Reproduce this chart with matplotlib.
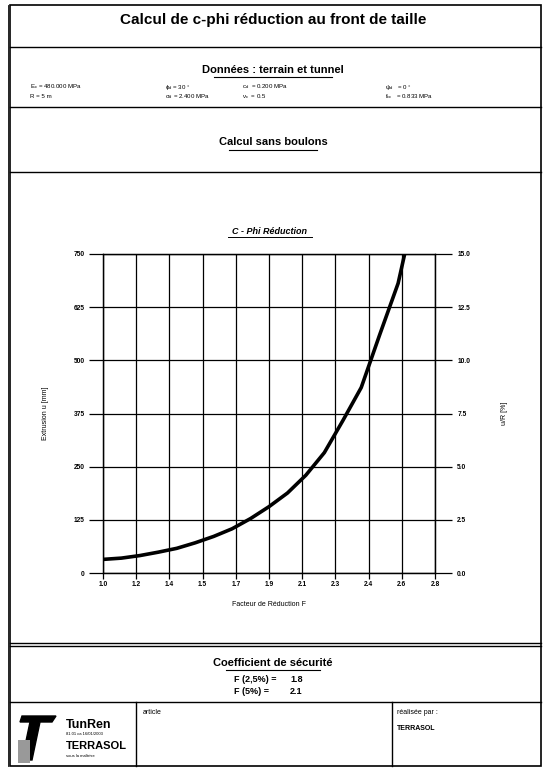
import matplotlib
matplotlib.use("Agg")
import matplotlib.pyplot as plt
from matplotlib.lines import Line2D
from matplotlib.patches import Polygon, Rectangle
import numpy as np

plt.rcParams['font.family'] = ['Liberation Sans', 'DejaVu Sans']
plt.rcParams['mathtext.fontset'] = 'custom'
plt.rcParams['mathtext.rm'] = 'Liberation Sans'
plt.rcParams['mathtext.it'] = 'Liberation Sans'

# ---- data ----
F_values = [1.0, 1.1, 1.2, 1.3, 1.4, 1.5, 1.6, 1.7, 1.8, 1.9, 2.0, 2.1, 2.2, 2.3, 2.4, 2.5, 2.6, 2.65]
u_values = [32, 35, 41, 49, 58, 71, 86, 104, 128, 156, 188, 230, 283, 358, 436, 560, 681, 778]
x_ticks = [1.0, 1.18, 1.36, 1.54, 1.72, 1.90, 2.08, 2.26, 2.44, 2.62, 2.80]
x_ticklabels = ['1.0', '1.2', '1.4', '1.5', '1.7', '1.9', '2.1', '2.3', '2.4', '2.6', '2.8']
y_ticks = [0, 125, 250, 375, 500, 625, 750]
y_ticklabels = ['0', '125', '250', '375', '500', '625', '750']
y2_ticks = [0.0, 2.5, 5.0, 7.5, 10.0, 12.5, 15.0]
y2_ticklabels = ['0.0', '2.5', '5.0', '7.5', '10.0', '12.5', '15.0']

W, H = 547, 770
fig = plt.figure(figsize=(W / 100, H / 100), dpi=100)

def fx(px):
    return px / W

def fy(py):
    return 1 - py / H

def hline(y, x0=10, x1=541, lw=1.0):
    fig.add_artist(Line2D([fx(x0), fx(x1)], [fy(y), fy(y)], color='black', lw=lw))

def vline(x, y0, y1, lw=1.0):
    fig.add_artist(Line2D([fx(x), fx(x)], [fy(y0), fy(y1)], color='black', lw=lw))

def text(x, y, s, **kw):
    fig.text(fx(x), fy(y), s, **kw)

# page frame
fig.add_artist(Rectangle((fx(10), fy(766)), fx(541) - fx(10), fy(5) - fy(766),
                         fill=False, edgecolor='black', lw=1.2))
fig.add_artist(Line2D([fx(8), fx(8)], [fy(5), fy(766)], color='black', lw=0.6))
hline(47)
hline(107)
hline(172)
hline(643)
hline(646)
hline(702)
vline(136, 702, 766)
vline(392, 702, 766)

# titles
text(273, 20, 'Calcul de c-phi réduction au front de taille', ha='center', va='center',
     fontsize=11, fontweight='bold')
text(273, 70, 'Données : terrain et tunnel', ha='center', va='center', fontsize=8,
     fontweight='bold')
fig.add_artist(Line2D([fx(214), fx(332)], [fy(77), fy(77)], color='black', lw=0.8))

ps = 4.4
text(30, 87, r'E$_c$ = 480.000 MPa', fontsize=ps, va='center')
text(30, 97, 'R = 5 m', fontsize=ps, va='center')
text(165, 87, r'$\phi_d$ = 30 °', fontsize=ps, va='center')
text(165, 97, r'$\sigma_d$ = 2.400 MPa', fontsize=ps, va='center')
text(242, 87, r'c$_d$  = 0.200 MPa', fontsize=ps, va='center')
text(242, 97, r'$\nu_c$  = 0.5', fontsize=ps, va='center')
text(385, 87, r'$\psi_d$   = 0 °', fontsize=ps, va='center')
text(385, 97, r'f$_{cc}$   = 0.833 MPa', fontsize=ps, va='center')

text(273, 142, 'Calcul sans boulons', ha='center', va='center', fontsize=8, fontweight='bold')
fig.add_artist(Line2D([fx(229), fx(317)], [fy(150), fy(150)], color='black', lw=0.8))

text(270, 232, 'C - Phi Réduction', ha='center', va='center', fontsize=6.5,
     fontweight='bold', fontstyle='italic')
fig.add_artist(Line2D([fx(228), fx(312)], [fy(237), fy(237)], color='black', lw=0.7))

# chart
ax = fig.add_axes([fx(103), fy(573), fx(435) - fx(103), fy(254) - fy(573)])
ax.plot(F_values, u_values, color='black', lw=2.6, solid_capstyle='round', clip_on=True)
ax.set_xlim(1.0, 2.8)
ax.set_ylim(0, 750)
ax.set_xticks(x_ticks)
ax.set_xticklabels(x_ticklabels, fontsize=4.8, fontweight='bold')
ax.set_yticks(y_ticks)
ax.set_yticklabels(y_ticklabels, fontsize=4.8, fontweight='bold')
ax.grid(True, color='black', lw=0.9)
for s in ax.spines.values():
    s.set_linewidth(0.9)
ax.tick_params(axis='x', length=4, width=0.9, pad=2)
ax.tick_params(axis='y', length=10, width=0.9, pad=3)
ax.set_xlabel('Facteur de Réduction F', fontsize=5, labelpad=9)
ax.set_ylabel('Extrusion u [mm]', fontsize=5, labelpad=18)

ax2 = ax.twinx()
ax2.set_ylim(0, 15)
ax2.set_yticks(y2_ticks)
ax2.set_yticklabels(y2_ticklabels, fontsize=4.8, fontweight='bold')
ax2.tick_params(axis='y', length=12, width=0.9, pad=4)
ax2.set_ylabel('u/R [%]', fontsize=5, labelpad=22)
for s in ax2.spines.values():
    s.set_linewidth(0.9)

# safety coefficient
text(273, 663, 'Coefficient de sécurité', ha='center', va='center', fontsize=8, fontweight='bold')
fig.add_artist(Line2D([fx(226), fx(320)], [fy(670), fy(670)], color='black', lw=0.8))
text(234, 680, 'F (2,5%) =', fontsize=6.5, va='center', fontweight='bold')
text(290, 680, '1.8', fontsize=6.5, va='center', fontweight='bold')
text(234, 691, 'F (5%) =', fontsize=6.5, va='center', fontweight='bold')
text(290, 691, '2.1', fontsize=6.5, va='center', fontweight='bold')

# footer
logo = [(22, 716), (56, 716), (52, 722), (40, 722), (32, 760), (22, 760), (30, 722), (20, 722)]
fig.add_artist(Polygon([(fx(x), fy(y)) for x, y in logo], closed=True, color='black'))
fig.add_artist(Rectangle((fx(18), fy(763)), fx(30) - fx(18), fy(740) - fy(763),
                         facecolor='#999999', edgecolor='none'))
text(66, 725, 'TunRen', fontsize=9, fontweight='bold', va='center')
text(66, 734, '81.01 ca 16/01/2003', fontsize=3, va='center')
text(66, 746, 'TERRASOL', fontsize=8, fontweight='bold', va='center')
text(66, 756, 'sous la maîtrise', fontsize=3, va='center')
text(143, 712, 'article', fontsize=5, va='center')
text(397, 712, 'réalisée par :', fontsize=5, va='center')
text(397, 729, 'TERRASOL', fontsize=5, va='center', fontweight='bold')

fig.savefig('out.png', dpi=100)
